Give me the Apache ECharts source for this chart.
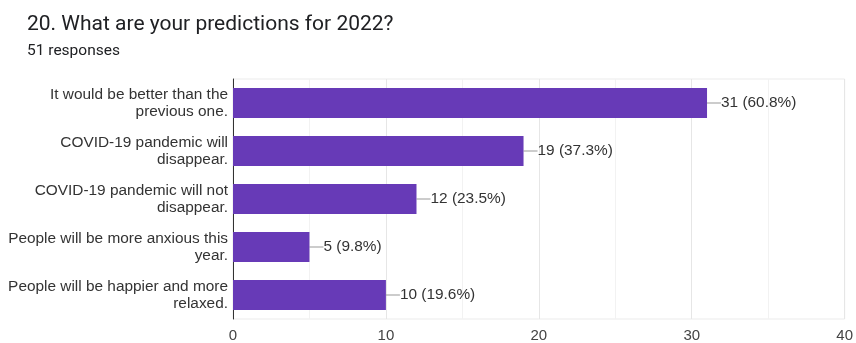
<!DOCTYPE html>
<html>
<head>
<meta charset="utf-8">
<script src="https://cdn.jsdelivr.net/npm/echarts@6/dist/echarts.min.js"></script>
<style>
  html, body { margin: 0; padding: 0; background: #fff; }
  #chart { width: 856px; height: 343px; }
</style>
</head>
<body>
<div id="chart"></div>
<script>
// Survey answers, counts and share of the 51 responses
const categories = [
  'It would be better than the\nprevious one.',
  'COVID-19 pandemic will\ndisappear.',
  'COVID-19 pandemic will not\ndisappear.',
  'People will be more anxious this\nyear.',
  'People will be happier and more\nrelaxed.'
];
const counts = [31, 19, 12, 5, 10];
const percents = ['60.8', '37.3', '23.5', '9.8', '19.6'];
const xTicks = [0, 10, 20, 30, 40];

const sans = '"Liberation Sans", Arial, sans-serif';
const headFont = 'Roboto, Arial, sans-serif';

const chart = echarts.init(document.getElementById('chart'), null, { renderer: 'canvas' });

chart.setOption({
  animation: false,
  backgroundColor: '#ffffff',
  textStyle: { fontFamily: sans },
  title: [
    {
      text: '20. What are your predictions for 2022?',
      left: 22, top: 9,
      textStyle: { fontSize: 21, fontWeight: 'normal', color: '#202124', fontFamily: headFont }
    },
    {
      text: '51 responses',
      left: 22, top: 38,
      textStyle: { fontSize: 15.5, fontWeight: 'normal', color: '#202124', fontFamily: headFont }
    }
  ],
  grid: {
    left: 233, right: 8, top: 79, bottom: 23,
    show: true, borderColor: '#ebebeb', borderWidth: 1
  },
  xAxis: {
    type: 'value',
    min: xTicks[0], max: xTicks[xTicks.length - 1], interval: 10,
    axisLine: { show: false },
    axisTick: { show: false },
    axisLabel: { color: '#444', fontSize: 15, margin: 9, fontFamily: sans },
    splitLine: { lineStyle: { color: '#e6e6e6' } },
    minorTick: { show: false, splitNumber: 2 },
    minorSplitLine: { show: true, lineStyle: { color: '#f2f2f2' } }
  },
  yAxis: {
    type: 'category',
    inverse: true,
    data: categories,
    axisLine: { show: true, lineStyle: { color: '#333', width: 1 } },
    axisTick: { show: false },
    axisLabel: { color: '#333', fontSize: 15.4, lineHeight: 17, margin: 5, align: 'right', fontFamily: sans }
  },
  series: [{
    type: 'bar',
    data: counts,
    barWidth: '62%',
    itemStyle: { color: '#673ab7' },
    label: {
      show: true,
      position: 'right',
      distance: 0,
      color: '#333',
      fontSize: 15.4,
      fontFamily: sans,
      formatter: p => `${counts[p.dataIndex]} (${percents[p.dataIndex]}%)`
    },
    labelLayout: { dx: 14 },
    labelLine: { show: true, lineStyle: { color: '#999', width: 1 } }
  }]
});
</script>
</body>
</html>
